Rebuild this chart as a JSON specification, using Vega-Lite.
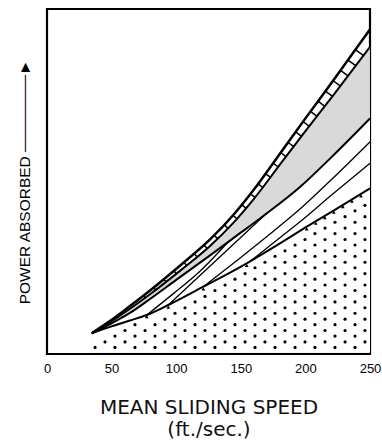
{
  "$schema": "https://vega.github.io/schema/vega-lite/v6.json",
  "width": 323,
  "height": 345,
  "autosize": {"type": "none"},
  "padding": {"left": 47, "top": 9, "right": 12, "bottom": 91},
  "background": "white",
  "config": {"view": {"stroke": "black", "strokeWidth": 2.2}, "font": "Liberation Sans"},
  "datasets": {
    "curves": [
      {"c": "A", "x": 34.6, "y": 6}, {"c": "A", "x": 50, "y": 9.9}, {"c": "A", "x": 64.2, "y": 13.9}, {"c": "A", "x": 80, "y": 18.5}, {"c": "A", "x": 102.9, "y": 25.6}, {"c": "A", "x": 126.2, "y": 33.2}, {"c": "A", "x": 144.2, "y": 40.3}, {"c": "A", "x": 160, "y": 47.6}, {"c": "A", "x": 181.1, "y": 58.5}, {"c": "A", "x": 200, "y": 68.3}, {"c": "A", "x": 221.4, "y": 79.2}, {"c": "A", "x": 250, "y": 94.1},
      {"c": "B", "x": 34.6, "y": 6}, {"c": "B", "x": 50, "y": 9.5}, {"c": "B", "x": 64.2, "y": 13.1}, {"c": "B", "x": 80, "y": 17.4}, {"c": "B", "x": 102.9, "y": 24.1}, {"c": "B", "x": 126.2, "y": 31.3}, {"c": "B", "x": 144.2, "y": 38.0}, {"c": "B", "x": 160, "y": 44.9}, {"c": "B", "x": 181.1, "y": 55.3}, {"c": "B", "x": 200, "y": 64.6}, {"c": "B", "x": 221.4, "y": 74.9}, {"c": "B", "x": 250, "y": 89},
      {"c": "C", "x": 34.6, "y": 6}, {"c": "C", "x": 50, "y": 8.9}, {"c": "C", "x": 64.2, "y": 11.9}, {"c": "C", "x": 80, "y": 16}, {"c": "C", "x": 100, "y": 21.5}, {"c": "C", "x": 126.2, "y": 28.6}, {"c": "C", "x": 145, "y": 33.8}, {"c": "C", "x": 167.4, "y": 40}, {"c": "C", "x": 195.8, "y": 48.4}, {"c": "C", "x": 220, "y": 57}, {"c": "C", "x": 250, "y": 68.3},
      {"c": "D", "x": 121, "y": 19.5}, {"c": "D", "x": 150, "y": 28}, {"c": "D", "x": 175, "y": 35.5}, {"c": "D", "x": 195.8, "y": 42}, {"c": "D", "x": 220, "y": 50.5}, {"c": "D", "x": 250, "y": 61.5},
      {"c": "E", "x": 158, "y": 27.1}, {"c": "E", "x": 180, "y": 33.6}, {"c": "E", "x": 195.8, "y": 38.3}, {"c": "E", "x": 220, "y": 46}, {"c": "E", "x": 250, "y": 55.3},
      {"c": "F", "x": 34.6, "y": 6}, {"c": "F", "x": 50, "y": 8}, {"c": "F", "x": 64.2, "y": 9.7}, {"c": "F", "x": 77.2, "y": 11.3}, {"c": "F", "x": 93.9, "y": 14.2}, {"c": "F", "x": 121, "y": 19.5}, {"c": "F", "x": 154.6, "y": 26.3}, {"c": "F", "x": 180, "y": 32}, {"c": "F", "x": 201, "y": 36.9}, {"c": "F", "x": 225, "y": 42.3}, {"c": "F", "x": 250, "y": 48},
      {"c": "G", "x": 77.2, "y": 11.3}, {"c": "G", "x": 97.8, "y": 17.5}, {"c": "G", "x": 118.4, "y": 24}, {"c": "G", "x": 140, "y": 32.4},
      {"c": "H", "x": 93.9, "y": 14.2}, {"c": "H", "x": 130, "y": 26.8}, {"c": "H", "x": 170, "y": 40.8}
    ],
    "rungs": [
      {"x": 76, "y": 16.3, "x2": 74.7, "y2": 17.0}, {"x": 84, "y": 18.6, "x2": 82.5, "y2": 19.3}, {"x": 92, "y": 21.0, "x2": 90.3, "y2": 21.7}, {"x": 100, "y": 23.3, "x2": 98.1, "y2": 24.1}, {"x": 108, "y": 25.7, "x2": 105.9, "y2": 26.6}, {"x": 116, "y": 28.2, "x2": 113.7, "y2": 29.2}, {"x": 124, "y": 30.6, "x2": 121.5, "y2": 31.6}, {"x": 132, "y": 33.5, "x2": 129.3, "y2": 34.4}, {"x": 140, "y": 36.4, "x2": 137.1, "y2": 37.5}, {"x": 147, "y": 39.2, "x2": 143.9, "y2": 40.2}, {"x": 154, "y": 42.3, "x2": 150.7, "y2": 43.3}, {"x": 161, "y": 45.4, "x2": 157.5, "y2": 46.4}, {"x": 167, "y": 48.3, "x2": 163.3, "y2": 49.3}, {"x": 173, "y": 51.2, "x2": 169.1, "y2": 52.3}, {"x": 179, "y": 54.2, "x2": 175.0, "y2": 55.3}, {"x": 185, "y": 57.2, "x2": 180.8, "y2": 58.4}, {"x": 191, "y": 60.1, "x2": 186.6, "y2": 61.3}, {"x": 197, "y": 63.1, "x2": 192.4, "y2": 64.4}, {"x": 203, "y": 66.0, "x2": 198.2, "y2": 67.4}, {"x": 209, "y": 68.9, "x2": 204.0, "y2": 70.3}, {"x": 215, "y": 71.8, "x2": 209.8, "y2": 73.3}, {"x": 221, "y": 74.7, "x2": 215.5, "y2": 76.2}, {"x": 227, "y": 77.7, "x2": 221.4, "y2": 79.2}, {"x": 233, "y": 80.6, "x2": 227.2, "y2": 82.2}, {"x": 239, "y": 83.6, "x2": 232.9, "y2": 85.2}, {"x": 245, "y": 86.5, "x2": 238.7, "y2": 88.2}
    ],
    "teeth": [
      {"x": 77.2, "y": 10.8}, {"x": 93.9, "y": 13.6}, {"x": 121, "y": 18.9}, {"x": 154.6, "y": 25.7}, {"x": 201, "y": 36.3}, {"x": 208, "y": 37.9}, {"x": 215, "y": 39.5}, {"x": 222, "y": 41.1}, {"x": 229, "y": 42.7}, {"x": 236, "y": 44.3}, {"x": 243, "y": 45.8}
    ],
    "ticks": [{"x": 50}, {"x": 100}, {"x": 150}, {"x": 200}],
    "dots": [
      {"x": 37.2, "y": 1.9},
      {"x": 44.9, "y": 3.5},
      {"x": 52.6, "y": 1.9}, {"x": 52.6, "y": 5.2},
      {"x": 60.4, "y": 3.5}, {"x": 60.4, "y": 6.8},
      {"x": 68.1, "y": 1.9}, {"x": 68.1, "y": 5.2}, {"x": 68.1, "y": 8.5},
      {"x": 75.9, "y": 3.5}, {"x": 75.9, "y": 6.8},
      {"x": 83.6, "y": 1.9}, {"x": 83.6, "y": 5.2}, {"x": 83.6, "y": 8.5},
      {"x": 91.3, "y": 3.5}, {"x": 91.3, "y": 6.8}, {"x": 91.3, "y": 10.1},
      {"x": 99.1, "y": 1.9}, {"x": 99.1, "y": 5.2}, {"x": 99.1, "y": 8.5}, {"x": 99.1, "y": 11.8},
      {"x": 106.8, "y": 3.5}, {"x": 106.8, "y": 6.8}, {"x": 106.8, "y": 10.1}, {"x": 106.8, "y": 13.4},
      {"x": 114.6, "y": 1.9}, {"x": 114.6, "y": 5.2}, {"x": 114.6, "y": 8.5}, {"x": 114.6, "y": 11.8}, {"x": 114.6, "y": 15.1},
      {"x": 122.3, "y": 3.5}, {"x": 122.3, "y": 6.8}, {"x": 122.3, "y": 10.1}, {"x": 122.3, "y": 13.4}, {"x": 122.3, "y": 16.7},
      {"x": 130, "y": 1.9}, {"x": 130, "y": 5.2}, {"x": 130, "y": 8.5}, {"x": 130, "y": 11.8}, {"x": 130, "y": 15.1}, {"x": 130, "y": 18.4},
      {"x": 137.8, "y": 3.5}, {"x": 137.8, "y": 6.8}, {"x": 137.8, "y": 10.1}, {"x": 137.8, "y": 13.4}, {"x": 137.8, "y": 16.7}, {"x": 137.8, "y": 20.0},
      {"x": 145.5, "y": 1.9}, {"x": 145.5, "y": 5.2}, {"x": 145.5, "y": 8.5}, {"x": 145.5, "y": 11.8}, {"x": 145.5, "y": 15.1}, {"x": 145.5, "y": 18.4}, {"x": 145.5, "y": 21.7},
      {"x": 153.3, "y": 3.5}, {"x": 153.3, "y": 6.8}, {"x": 153.3, "y": 10.1}, {"x": 153.3, "y": 13.4}, {"x": 153.3, "y": 16.7}, {"x": 153.3, "y": 20.0}, {"x": 153.3, "y": 23.3},
      {"x": 161, "y": 1.9}, {"x": 161, "y": 5.2}, {"x": 161, "y": 8.5}, {"x": 161, "y": 11.8}, {"x": 161, "y": 15.1}, {"x": 161, "y": 18.4}, {"x": 161, "y": 21.7}, {"x": 161, "y": 25.0},
      {"x": 168.7, "y": 3.5}, {"x": 168.7, "y": 6.8}, {"x": 168.7, "y": 10.1}, {"x": 168.7, "y": 13.4}, {"x": 168.7, "y": 16.7}, {"x": 168.7, "y": 20.0}, {"x": 168.7, "y": 23.3}, {"x": 168.7, "y": 26.6},
      {"x": 176.5, "y": 1.9}, {"x": 176.5, "y": 5.2}, {"x": 176.5, "y": 8.5}, {"x": 176.5, "y": 11.8}, {"x": 176.5, "y": 15.1}, {"x": 176.5, "y": 18.4}, {"x": 176.5, "y": 21.7}, {"x": 176.5, "y": 25.0}, {"x": 176.5, "y": 28.3},
      {"x": 184.2, "y": 3.5}, {"x": 184.2, "y": 6.8}, {"x": 184.2, "y": 10.1}, {"x": 184.2, "y": 13.4}, {"x": 184.2, "y": 16.7}, {"x": 184.2, "y": 20.0}, {"x": 184.2, "y": 23.3}, {"x": 184.2, "y": 26.6}, {"x": 184.2, "y": 29.9},
      {"x": 192, "y": 1.9}, {"x": 192, "y": 5.2}, {"x": 192, "y": 8.5}, {"x": 192, "y": 11.8}, {"x": 192, "y": 15.1}, {"x": 192, "y": 18.4}, {"x": 192, "y": 21.7}, {"x": 192, "y": 25.0}, {"x": 192, "y": 28.3}, {"x": 192, "y": 31.6},
      {"x": 199.7, "y": 3.5}, {"x": 199.7, "y": 6.8}, {"x": 199.7, "y": 10.1}, {"x": 199.7, "y": 13.4}, {"x": 199.7, "y": 16.7}, {"x": 199.7, "y": 20.0}, {"x": 199.7, "y": 23.3}, {"x": 199.7, "y": 26.6}, {"x": 199.7, "y": 29.9}, {"x": 199.7, "y": 33.2},
      {"x": 207.4, "y": 1.9}, {"x": 207.4, "y": 5.2}, {"x": 207.4, "y": 8.5}, {"x": 207.4, "y": 11.8}, {"x": 207.4, "y": 15.1}, {"x": 207.4, "y": 18.4}, {"x": 207.4, "y": 21.7}, {"x": 207.4, "y": 25.0}, {"x": 207.4, "y": 28.3}, {"x": 207.4, "y": 31.6}, {"x": 207.4, "y": 34.9},
      {"x": 215.2, "y": 3.5}, {"x": 215.2, "y": 6.8}, {"x": 215.2, "y": 10.1}, {"x": 215.2, "y": 13.4}, {"x": 215.2, "y": 16.7}, {"x": 215.2, "y": 20.0}, {"x": 215.2, "y": 23.3}, {"x": 215.2, "y": 26.6}, {"x": 215.2, "y": 29.9}, {"x": 215.2, "y": 33.2}, {"x": 215.2, "y": 36.5},
      {"x": 222.9, "y": 1.9}, {"x": 222.9, "y": 5.2}, {"x": 222.9, "y": 8.5}, {"x": 222.9, "y": 11.8}, {"x": 222.9, "y": 15.1}, {"x": 222.9, "y": 18.4}, {"x": 222.9, "y": 21.7}, {"x": 222.9, "y": 25.0}, {"x": 222.9, "y": 28.3}, {"x": 222.9, "y": 31.6}, {"x": 222.9, "y": 34.9}, {"x": 222.9, "y": 38.2},
      {"x": 230.7, "y": 3.5}, {"x": 230.7, "y": 6.8}, {"x": 230.7, "y": 10.1}, {"x": 230.7, "y": 13.4}, {"x": 230.7, "y": 16.7}, {"x": 230.7, "y": 20.0}, {"x": 230.7, "y": 23.3}, {"x": 230.7, "y": 26.6}, {"x": 230.7, "y": 29.9}, {"x": 230.7, "y": 33.2}, {"x": 230.7, "y": 36.5}, {"x": 230.7, "y": 39.8},
      {"x": 238.4, "y": 1.9}, {"x": 238.4, "y": 5.2}, {"x": 238.4, "y": 8.5}, {"x": 238.4, "y": 11.8}, {"x": 238.4, "y": 15.1}, {"x": 238.4, "y": 18.4}, {"x": 238.4, "y": 21.7}, {"x": 238.4, "y": 25.0}, {"x": 238.4, "y": 28.3}, {"x": 238.4, "y": 31.6}, {"x": 238.4, "y": 34.9}, {"x": 238.4, "y": 38.2}, {"x": 238.4, "y": 41.5},
      {"x": 246.1, "y": 3.5}, {"x": 246.1, "y": 6.8}, {"x": 246.1, "y": 10.1}, {"x": 246.1, "y": 13.4}, {"x": 246.1, "y": 16.7}, {"x": 246.1, "y": 20.0}, {"x": 246.1, "y": 23.3}, {"x": 246.1, "y": 26.6}, {"x": 246.1, "y": 29.9}, {"x": 246.1, "y": 33.2}, {"x": 246.1, "y": 36.5}, {"x": 246.1, "y": 39.8}, {"x": 246.1, "y": 43.1}
    ]
  },
  "encoding": {
    "x": {
      "field": "x", "type": "quantitative",
      "scale": {"domain": [0, 250], "nice": false, "zero": false},
      "axis": {
        "values": [0, 50, 100, 150, 200, 250], "ticks": false, "domain": false, "grid": false,
        "labelFont": "Liberation Sans", "labelFontSize": 13, "labelPadding": 8, "labelColor": "black", "labelFlush": false,
        "title": ["MEAN SLIDING SPEED", "(ft./sec.)"], "titleFont": "DejaVu Sans", "titleFontSize": 20, "titleFontWeight": "normal",
        "titleColor": "#111", "titlePadding": 22, "titleLineHeight": 22
      }
    },
    "y": {
      "field": "y", "type": "quantitative",
      "scale": {"domain": [0, 100], "nice": false, "zero": false},
      "axis": {
        "labels": false, "ticks": false, "domain": false, "grid": false,
        "title": "POWER ABSORBED ───────►", "titleFont": "Liberation Sans", "titleFontSize": 15.5, "titleFontWeight": "normal",
        "titleColor": "black", "titlePadding": 15
      }
    }
  },
  "layer": [
    {
      "data": {"name": "curves"},
      "transform": [{"filter": "datum.c == 'B'"}],
      "mark": {"type": "area", "interpolate": "monotone", "fill": "#d9d9d9", "stroke": null},
      "encoding": {"y2": {"datum": 0.4}}
    },
    {
      "data": {"name": "curves"},
      "transform": [{"filter": "datum.c == 'C'"}],
      "mark": {"type": "area", "interpolate": "monotone", "fill": "white", "stroke": null},
      "encoding": {"y2": {"datum": 0.4}}
    },
    {
      "data": {"name": "dots"},
      "mark": {"type": "point", "filled": true, "size": 10, "color": "black", "opacity": 1, "strokeWidth": 0}
    },
    {
      "data": {"name": "curves"},
      "transform": [{"filter": "datum.c == 'A'"}],
      "mark": {"type": "line", "interpolate": "monotone", "color": "black", "strokeWidth": 2.5},
      "encoding": {"detail": {"field": "c"}}
    },
    {
      "data": {"name": "curves"},
      "transform": [{"filter": {"field": "c", "oneOf": ["B", "C", "F"]}}],
      "mark": {"type": "line", "interpolate": "monotone", "color": "black", "strokeWidth": 2},
      "encoding": {"detail": {"field": "c"}}
    },
    {
      "data": {"name": "curves"},
      "transform": [{"filter": {"field": "c", "oneOf": ["D", "E", "G", "H"]}}],
      "mark": {"type": "line", "interpolate": "monotone", "color": "black", "strokeWidth": 1.3},
      "encoding": {"detail": {"field": "c"}}
    },
    {
      "data": {"name": "rungs"},
      "mark": {"type": "rule", "color": "black", "strokeWidth": 1.5},
      "encoding": {"x2": {"field": "x2"}, "y2": {"field": "y2"}}
    },
    {
      "data": {"name": "teeth"},
      "mark": {"type": "point", "shape": "triangle-up", "filled": true, "size": 14, "color": "black", "opacity": 1, "strokeWidth": 0}
    },
    {
      "data": {"name": "ticks"},
      "mark": {"type": "rule", "color": "black", "strokeWidth": 1.5},
      "encoding": {"y": {"datum": 0}, "y2": {"datum": 1.4}}
    }
  ]
}
